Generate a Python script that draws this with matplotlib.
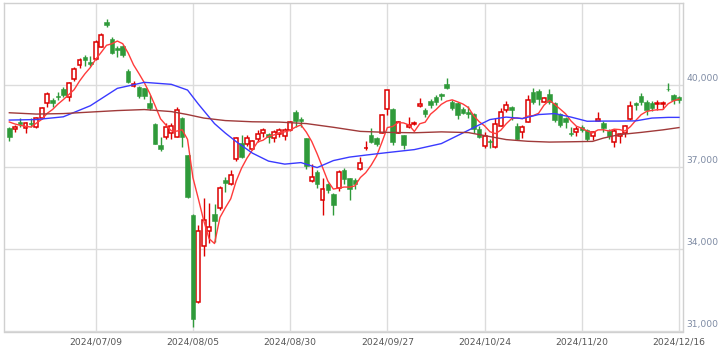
import numpy as np
import pandas as pd
import matplotlib
matplotlib.use("Agg")
import matplotlib.pyplot as plt
from matplotlib import transforms

# trading days (TSE holidays removed)
holidays = ["2024-07-15", "2024-08-12", "2024-09-16", "2024-09-23", "2024-10-14", "2024-11-04"]
dates = pd.bdate_range("2024-06-17", "2024-12-16", freq="C", holidays=holidays)

opens = [38430, 38414, 38660, 38427, 38632, 38490, 38793, 39363, 39462, 39620,
         39865, 39561, 40220, 40732, 41024, 40863, 40951, 41412, 42320, 41683,
         41360, 41438, 40523, 39974, 39950, 39890, 39365, 38580, 37816, 38120,
         38243, 38120, 38815, 37450, 35249, 32061, 34121, 34670, 35291, 35500,
         36535, 36390, 37290, 37880, 37852, 37660, 38025, 38265, 38208, 38060,
         38218, 38145, 38365, 39023, 38768, 38060, 36510, 36840, 35803, 36378,
         36024, 36232, 36900, 36598, 36540, 36950, 37700, 38180, 38060, 38266,
         39122, 39122, 38266, 38180, 38465, 38585, 39240, 39100, 39440, 39580,
         39670, 40050, 39400, 39340, 39122, 39012, 38940, 38400, 37790, 37965,
         37753, 38525, 39097, 39195, 38511, 38280, 38670, 39766, 39790, 39400,
         39671, 39341, 38939, 38792, 38266, 38300, 38480, 38365, 38140, 38700,
         38632, 38330, 37937, 38150, 38240, 38756, 39341, 39610, 39400, 39360,
         39310, 39320, 39860, 39640, 39560]
highs = [38463, 38548, 38804, 38668, 38790, 38850, 39217, 39766, 39524, 39766,
         39950, 40130, 40680, 40990, 41110, 41070, 41657, 41902, 42426, 41756,
         41440, 41475, 40596, 40170, 39975, 39900, 39645, 38620, 38100, 38610,
         38632, 39217, 38850, 37470, 35290, 34889, 35866, 35683, 35657, 36330,
         36656, 36900, 38120, 38180, 38180, 38020, 38365, 38450, 38270, 38370,
         38430, 38430, 38700, 39097, 38851, 38060, 37120, 36900, 36598, 36420,
         36070, 36900, 36960, 36620, 36600, 37366, 37973, 38427, 38100, 38950,
         39829, 39160, 38710, 38200, 38850, 38700, 39546, 39160, 39490, 39660,
         39710, 40257, 39460, 39400, 39220, 39240, 38980, 38500, 38290, 38040,
         38790, 39160, 39425, 39250, 38620, 38560, 39664, 39890, 39880, 39560,
         39880, 39380, 38990, 38850, 38480, 38500, 38560, 38400, 38330, 39040,
         38700, 38400, 38420, 38250, 38560, 39430, 39400, 39720, 39470, 39420,
         39480, 39420, 40091, 39700, 39600]
lows = [37962, 38302, 38485, 38266, 38485, 38427, 38780, 39217, 39217, 39462,
        39560, 39437, 40170, 40620, 40700, 40700, 40925, 41390, 42120, 41145,
        41050, 41035, 40073, 39927, 39525, 39500, 39100, 37840, 37610, 38025,
        38040, 38100, 37732, 35880, 31156, 32024, 33755, 34220, 34278, 35440,
        36110, 36365, 37220, 37330, 37780, 37620, 37937, 38120, 37880, 37930,
        38100, 38000, 38330, 38463, 38463, 36927, 36473, 36232, 35255, 36071,
        35255, 36130, 36400, 35803, 36200, 36900, 37633, 37900, 37800, 38240,
        38913, 37816, 38240, 37658, 38450, 38550, 39210, 38860, 39170, 39290,
        39460, 39880, 39100, 38770, 38950, 38793, 38244, 38060, 37720, 37700,
        37720, 38500, 39030, 38720, 38000, 38070, 38650, 39300, 39290, 39400,
        39300, 38650, 38480, 38430, 38150, 38150, 38300, 37950, 38000, 38680,
        38300, 38050, 37760, 37880, 38100, 38720, 39100, 39280, 38900, 39050,
        39100, 39150, 39800, 39300, 39350]
closes = [38102, 38482, 38570, 38633, 38596, 38804, 39173, 39667, 39341, 39583,
          39631, 40074, 40580, 40913, 40912, 40780, 41580, 41831, 42224, 41190,
          41275, 41097, 40126, 40063, 39599, 39594, 39154, 37869, 37667, 38468,
          38525, 39101, 38126, 35909, 31458, 34675, 35089, 34831, 35025, 36232,
          36442, 36726, 38062, 37388, 38062, 37951, 38211, 38364, 38110, 38288,
          38371, 38362, 38647, 38700, 38686, 37047, 36657, 36391, 36215, 36159,
          35620, 36833, 36581, 36203, 36380, 37155, 37723, 37940, 37870, 38925,
          39829, 37919, 38651, 37808, 38552, 38635, 39332, 38937, 39277, 39380,
          39605, 39910, 39180, 38911, 38981, 38954, 38411, 38104, 38143, 37913,
          38605, 39027, 39277, 39081, 38053, 38474, 39480, 39381, 39500, 39533,
          39376, 38721, 38535, 38642, 38220, 38414, 38352, 38026, 38283, 38780,
          38442, 38134, 38349, 38208, 38513, 39248, 39276, 39395, 39091, 39160,
          39367, 39372, 39849, 39470, 39457]

# 5-day average line, one value per day
ma5 = [38660, 38590, 38540, 38500,
       38477, 38617, 38755, 38975, 39116, 39314, 39479, 39659, 39842, 40156,
       40422, 40652, 40953, 41203, 41465, 41521, 41620, 41523, 41182, 40750,
       40432, 40096, 39707, 39256, 38777, 38550, 38337, 38326, 38377, 38026,
       36624, 35854, 35051, 34392, 34216, 35170, 35524, 35851, 36497, 36970,
       37336, 37638, 37935, 37995, 38140, 38185, 38269, 38299, 38356, 38474,
       38553, 38288, 37947, 37496, 36999, 36494, 36208, 36244, 36282, 36279,
       36323, 36630, 36808, 37080, 37414, 37923, 38457, 38497, 38639, 38626,
       38552, 38313, 38596, 38653, 38947, 39112, 39306, 39422, 39470, 39397,
       39317, 39187, 38887, 38672, 38519, 38305, 38235, 38358, 38593, 38781,
       38809, 38782, 38873, 38894, 38978, 39274, 39454, 39302, 39133, 38961,
       38699, 38506, 38433, 38331, 38259, 38371, 38377, 38333, 38398, 38383,
       38329, 38490, 38719, 38928, 39046, 39085, 39108, 39113, 39327, 39436,
       39495]

# 25-day average line, read at these days
ma25_days = ["2024-06-17", "2024-06-24", "2024-07-01", "2024-07-08", "2024-07-16", "2024-07-23",
             "2024-07-30", "2024-08-02", "2024-08-06", "2024-08-09", "2024-08-14", "2024-08-16",
             "2024-08-21", "2024-08-26", "2024-08-29", "2024-09-03", "2024-09-06", "2024-09-11",
             "2024-09-17", "2024-09-20", "2024-09-27", "2024-10-04", "2024-10-11", "2024-10-17",
             "2024-10-22", "2024-10-25", "2024-10-30", "2024-11-05", "2024-11-08", "2024-11-13",
             "2024-11-18", "2024-11-21", "2024-11-26", "2024-11-29", "2024-12-04", "2024-12-09",
             "2024-12-12", "2024-12-16"]
ma25 = [38730, 38750, 38850, 39254, 39890, 40110, 40037, 39828, 39316, 38600,
        38255, 37944, 37523, 37230, 37120, 37176, 36993, 37249, 37377, 37450,
        37542, 37651, 37871, 38163, 38456, 38749, 38840, 38785, 38932, 38968,
        38840, 38687, 38694, 38694, 38701, 38804, 38829, 38829]

# 75-day average line, read at these days
ma75_days = ["2024-06-17", "2024-06-24", "2024-07-01", "2024-07-08", "2024-07-16", "2024-07-23",
             "2024-07-30", "2024-08-02", "2024-08-07", "2024-08-14", "2024-08-21", "2024-08-28",
             "2024-09-04", "2024-09-11", "2024-09-19", "2024-09-27", "2024-10-04", "2024-10-11",
             "2024-10-21", "2024-10-24", "2024-10-30", "2024-11-06", "2024-11-12", "2024-11-18",
             "2024-11-22", "2024-11-26", "2024-11-29", "2024-12-05", "2024-12-11", "2024-12-16"]
ma75 = [38998, 38950, 38968, 39023, 39078, 39115, 39041, 38932, 38804, 38712,
        38668, 38657, 38602, 38467, 38317, 38280, 38266, 38299, 38273, 38163,
        38017, 37955, 37926, 37937, 37951, 38072, 38200, 38280, 38372, 38456]

xtick_days = ["2024-07-09", "2024-08-05", "2024-08-30", "2024-09-27", "2024-10-24", "2024-11-20", "2024-12-16"]
yticks = [31000, 34000, 37000, 40000]

UP = "#dd0000"
DOWN = "#2f9a3a"

fig = plt.figure(figsize=(7.27, 3.58), dpi=100)
ax = fig.add_axes([3.7 / 727, 1 - 331.5 / 358, 679.6 / 727, 328.2 / 358])

x = np.arange(len(dates))
o = np.array(opens); h = np.array(highs); l = np.array(lows); c = np.array(closes)
up = c >= o

ax.vlines(x, l, h, colors=np.where(up, UP, DOWN), linewidth=1.0, zorder=2)
w = 0.72
ax.bar(x[up], (c - o)[up], bottom=o[up], width=w, facecolor="white",
       edgecolor=UP, linewidth=1.1, zorder=3)
ax.bar(x[~up], (o - c)[~up], bottom=c[~up], width=w + 0.12, facecolor=DOWN,
       edgecolor=DOWN, linewidth=0.4, zorder=3)

ax.plot(x, ma5, color="#ff3b3b", linewidth=1.0, zorder=4)
ax.plot(dates.get_indexer(pd.to_datetime(ma25_days)), ma25, color="#3a3aff", linewidth=1.0, zorder=4)
ax.plot(dates.get_indexer(pd.to_datetime(ma75_days)), ma75, color="#a03a3a", linewidth=1.0, zorder=4)

ax.set_xlim(-1.04, 124.8)
ax.set_ylim(31000, 43000)

xpos = dates.get_indexer(pd.to_datetime(xtick_days))
ax.set_xticks(xpos)
ax.set_xticklabels([d.replace("-", "/") for d in xtick_days])
ax.set_yticks(yticks)
ax.tick_params(axis="x", length=0, pad=4, labelsize=6.6, colors="#555555")
ax.tick_params(axis="y", length=0, labelleft=False, labelright=False)
ax.grid(True, color="#dcdcdc", linewidth=1.0)
ax.set_axisbelow(True)
for s in ax.spines.values():
    s.set_color("#d0d0d0")
    s.set_linewidth(1.0)

blend = transforms.blended_transform_factory(ax.transAxes, ax.transData)
lab_tr = transforms.offset_copy(blend, fig=fig, x=3.5, y=6.5, units="dots")
for v in yticks:
    ax.text(1.0, v, f"{v:,}", transform=lab_tr, ha="left", va="center",
            fontsize=6.6, color="#7d8aa3")

fig.savefig("out.png", dpi=100)
